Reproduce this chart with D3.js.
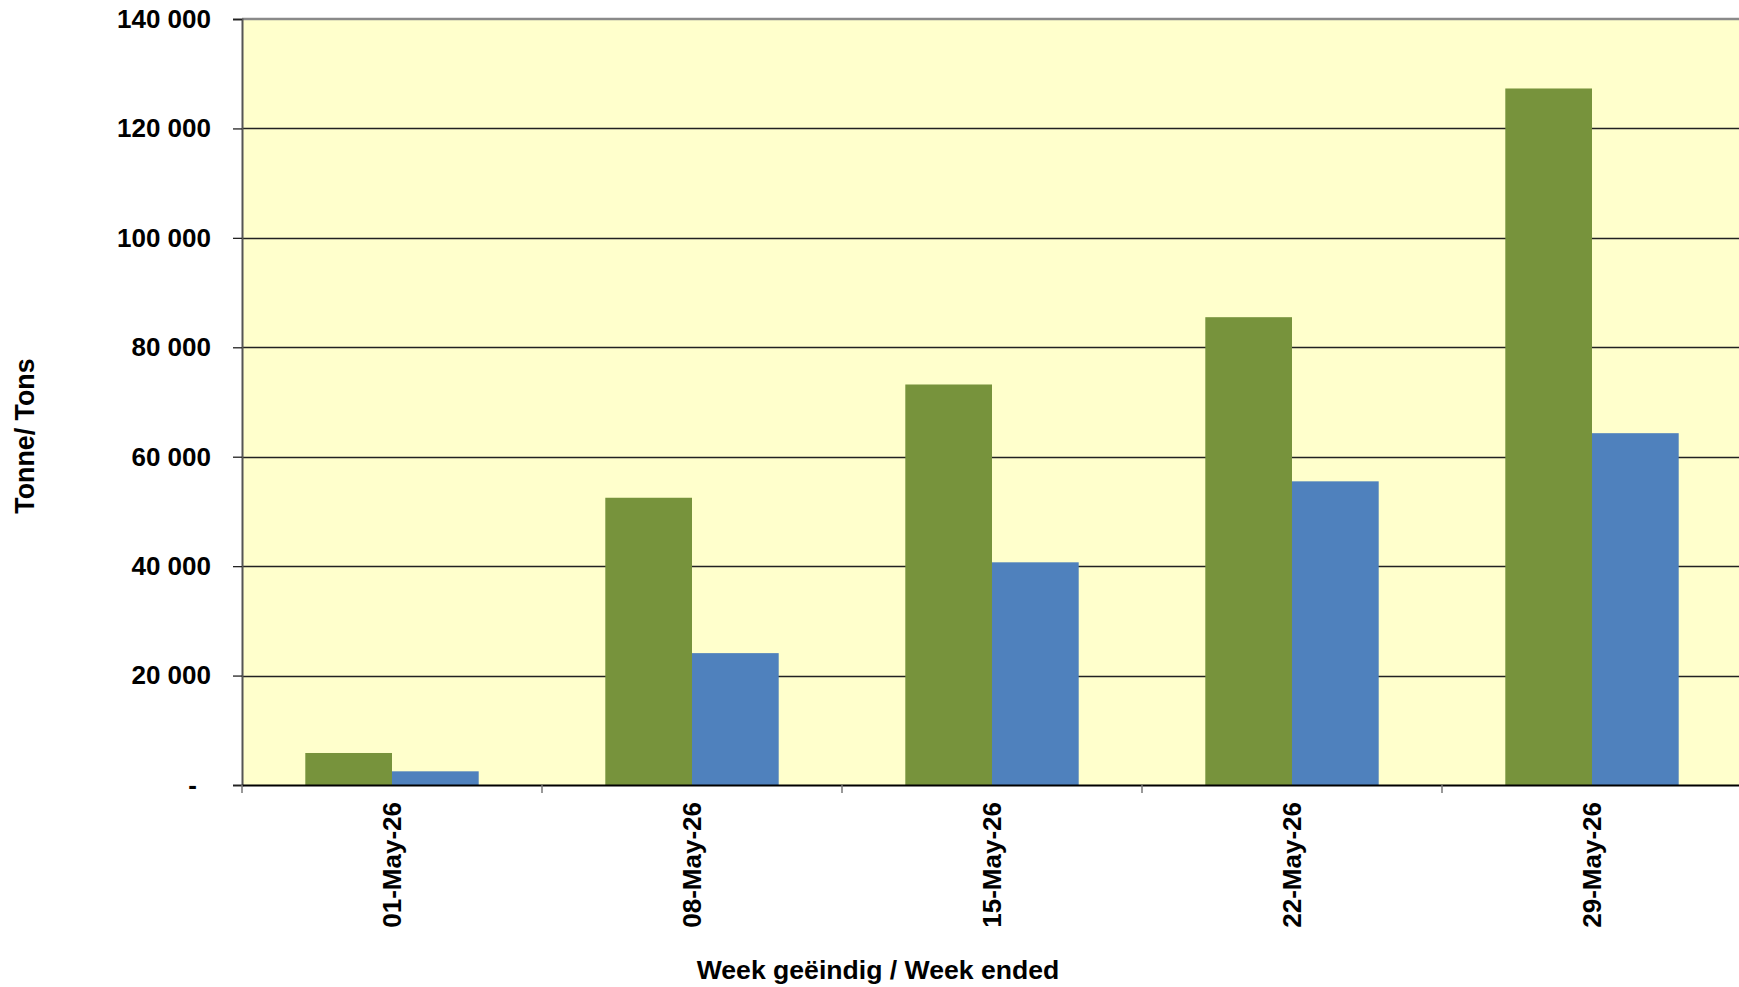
<!DOCTYPE html>
<html>
<head>
<meta charset="utf-8">
<script src="https://cdn.jsdelivr.net/npm/d3@7"></script>
<style>
html, body { margin: 0; padding: 0; background: #ffffff; overflow: hidden; }
svg { display: block; font-family: "Liberation Sans", Arial, sans-serif; }
</style>
</head>
<body>
<svg id="chart" width="1739" height="987"></svg>
<script>
// ---- data ----
const categories = ["01-May-26", "08-May-26", "15-May-26", "22-May-26", "29-May-26"];
const seriesNames = ["Series 1", "Series 2"];
const series1Values = [5850, 52500, 73200, 85500, 127300];
const series2Values = [2500, 24100, 40700, 55500, 64300];
const yTickValues = [0, 20000, 40000, 60000, 80000, 100000, 120000, 140000];
const xAxisTitle = "Week geëindig / Week ended";
const yAxisTitle = "Tonne/ Tons";
const seriesColors = ["#77933C", "#4F81BD"];

// ---- layout ----
const W = 1739, H = 987;
const plotLeft = 242, plotTop = 19, plotBottom = 785;
const catWidth = 300;
const plotRight = plotLeft + catWidth * categories.length;

const svg = d3.select("#chart");

const x0 = d3.scaleBand().domain(categories).range([plotLeft, plotRight]).padding(0);
const groupFrac = 0.578;
const x1 = d3.scaleBand().domain(seriesNames)
  .range([-x0.bandwidth() * groupFrac / 2, x0.bandwidth() * groupFrac / 2]).padding(0);
const y = d3.scaleLinear().domain([0, 140000]).range([plotBottom, plotTop]);

// plot background
svg.append("rect")
  .attr("x", plotLeft).attr("y", plotTop)
  .attr("width", plotRight - plotLeft).attr("height", plotBottom - plotTop)
  .attr("fill", "#FFFFCC");

// gridlines
svg.append("g").selectAll("line")
  .data(yTickValues.filter(v => v > 0 && v < 140000))
  .join("line")
  .attr("x1", plotLeft).attr("x2", plotRight)
  .attr("y1", d => Math.round(y(d)) + 0.5).attr("y2", d => Math.round(y(d)) + 0.5)
  .attr("stroke", "#222").attr("stroke-width", 1.4);

// top border
svg.append("line")
  .attr("x1", plotLeft).attr("x2", plotRight)
  .attr("y1", plotTop).attr("y2", plotTop)
  .attr("stroke", "#8a8a8a").attr("stroke-width", 2.5);

// bars
const rows = categories.map((c, i) => ({ cat: c, vals: [series1Values[i], series2Values[i]] }));
const groups = svg.append("g").selectAll("g")
  .data(rows).join("g")
  .attr("transform", d => `translate(${x0(d.cat) + x0.bandwidth() / 2},0)`);
groups.selectAll("rect")
  .data(d => d.vals.map((v, j) => ({ name: seriesNames[j], v, j })))
  .join("rect")
  .attr("x", d => x1(d.name))
  .attr("width", x1.bandwidth())
  .attr("y", d => y(d.v))
  .attr("height", d => y(0) - y(d.v))
  .attr("fill", d => seriesColors[d.j]);

// y axis
const yAxis = d3.axisLeft(y)
  .tickValues(yTickValues)
  .tickSize(9)
  .tickPadding(22)
  .tickFormat(d => d === 0 ? "-" : d3.format(",")(d).replace(/,/g, " "));
const gy = svg.append("g").attr("transform", `translate(${plotLeft},0)`).call(yAxis);
gy.select(".domain").attr("stroke", "#555").attr("stroke-width", 2);
gy.selectAll(".tick line").attr("stroke", "#222").attr("stroke-width", 1.3);
gy.selectAll(".tick text")
  .attr("fill", "#000").style("font-size", "26px").style("font-weight", "bold")
  .attr("dx", d => d === 0 ? -14 : 0);

// x axis
const xAxis = d3.axisBottom(x0).tickSize(0).tickPadding(0);
const gx = svg.append("g").attr("transform", `translate(0,${plotBottom})`).call(xAxis);
gx.select(".domain").attr("stroke", "#000").attr("stroke-width", 2);
gx.selectAll(".tick text")
  .attr("fill", "#000").style("font-size", "26px").style("font-weight", "bold")
  .attr("text-anchor", "end")
  .attr("transform", "rotate(-90)")
  .attr("x", -17).attr("y", 0).attr("dy", "0.35em");
// boundary tick marks between categories
svg.append("g").selectAll("line")
  .data(d3.range(categories.length + 1))
  .join("line")
  .attr("x1", i => plotLeft + i * x0.step()).attr("x2", i => plotLeft + i * x0.step())
  .attr("y1", plotBottom).attr("y2", plotBottom + 8)
  .attr("stroke", "#777").attr("stroke-width", 1.5);

// axis titles
svg.append("text")
  .attr("x", 878).attr("y", 979)
  .attr("text-anchor", "middle")
  .style("font-size", "26.6px").style("font-weight", "bold")
  .text(xAxisTitle);
svg.append("text")
  .attr("transform", "translate(34,436) rotate(-90)")
  .attr("text-anchor", "middle")
  .style("font-size", "26.8px").style("font-weight", "bold")
  .text(yAxisTitle);
</script>
</body>
</html>
